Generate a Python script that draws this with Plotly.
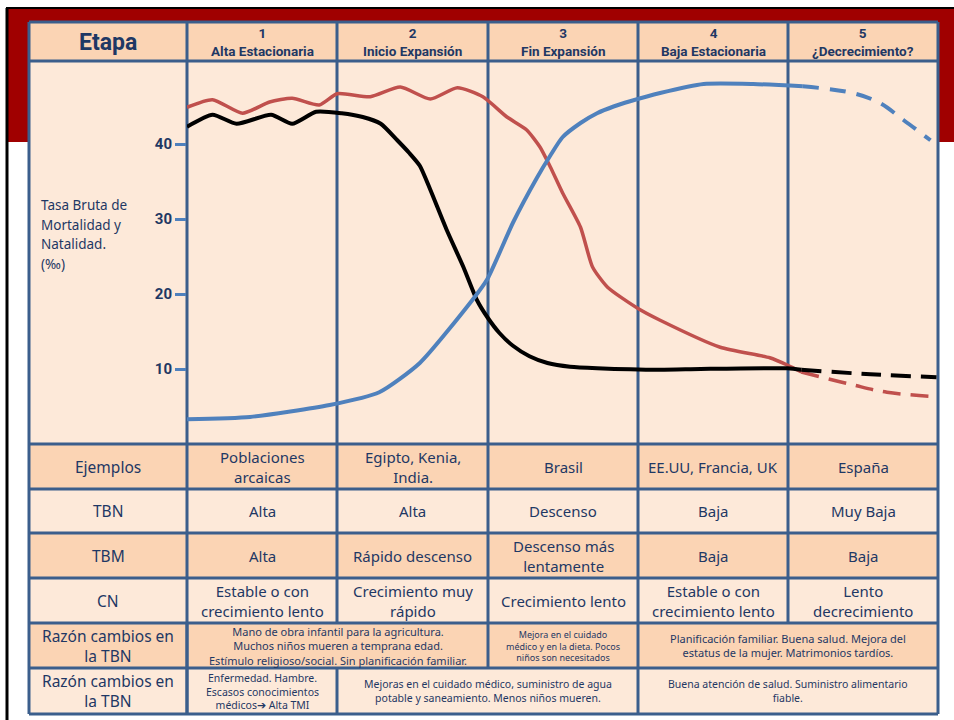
import plotly.graph_objects as go

W, H = 954, 720

# ---------------- data (x in stage units 0..5, y in per mille) ----------------
tbn_x = [0.00, 0.17, 0.37, 0.55, 0.70, 0.88, 1.00, 1.22, 1.42, 1.62, 1.80, 1.97, 2.13, 2.26, 2.35,
         2.42, 2.50, 2.62, 2.70, 2.80, 3.00, 3.15, 3.55, 3.88, 4.00, 4.09]
tbn_y = [44.9, 45.9, 44.1, 45.6, 46.1, 45.2, 46.7, 46.3, 47.6, 46.0, 47.5, 46.3, 43.6, 41.9, 39.6,
         36.9, 33.5, 28.9, 23.6, 20.9, 18.1, 16.5, 12.9, 11.5, 10.5, 9.6]
tbn_fx = [4.09, 4.43, 4.66, 4.99]
tbn_fy = [9.6, 7.9, 6.9, 6.3]

tbm_x = [0.00, 0.17, 0.33, 0.56, 0.70, 0.86, 1.03, 1.17, 1.29, 1.40, 1.48, 1.55, 1.62, 1.73, 1.84,
         1.93, 2.00, 2.08, 2.17, 2.28, 2.40, 2.55, 2.73, 3.15, 3.42, 4.00, 4.09]
tbm_y = [42.3, 43.9, 42.7, 43.9, 42.7, 44.3, 44.1, 43.6, 42.7, 40.5, 38.8, 37.1, 33.9, 28.5, 23.6,
         19.2, 16.9, 14.8, 13.1, 11.7, 10.8, 10.3, 10.1, 9.9, 10.0, 10.1, 9.9]
tbm_fx = [4.09, 4.55, 4.99]
tbm_fy = [9.9, 9.3, 8.9]

pop_x = [0.00, 0.42, 0.95, 1.28, 1.55, 1.90, 2.00, 2.17, 2.33, 2.42, 2.50, 2.62, 2.73, 2.84, 2.95,
         3.15, 3.44, 3.77, 4.10]
pop_y = [3.3, 3.6, 5.2, 6.9, 10.8, 19.2, 22.0, 29.5, 35.5, 38.5, 40.9, 42.8, 44.1, 45.0, 45.7,
         46.8, 48.0, 48.0, 47.7]
pop_fx = [4.10, 4.43, 4.61, 4.77, 4.95]
pop_fy = [47.7, 46.8, 45.5, 43.2, 40.5]

y_ticks = [10, 20, 30, 40]
y_title_lines = ["Tasa Bruta de", "Mortalidad y", "Natalidad.", "(‰)"]

stage_nums = ["1", "2", "3", "4", "5"]
stage_names = ["Alta Estacionaria", "Inicio Expansión", "Fin Expansión", "Baja Estacionaria", "¿Decrecimiento?"]
header_label = "Etapa"

row_labels = ["Ejemplos", "TBN", "TBM", "CN"]
row_cells = [
    ["Poblaciones<br>arcaicas", "Egipto, Kenia,<br>India.", "Brasil", "EE.UU, Francia, UK", "España"],
    ["Alta", "Alta", "Descenso", "Baja", "Muy Baja"],
    ["Alta", "Rápido descenso", "Descenso más<br>lentamente", "Baja", "Baja"],
    ["Estable o con<br>crecimiento lento", "Crecimiento muy<br>rápido", "Crecimiento lento",
     "Estable o con<br>crecimiento lento", "Lento<br>decrecimiento"],
]
razon_label = "Razón cambios en<br>la TBN"
razon1_spans = [(1, 3), (3, 4), (4, 6)]
razon1_texts = ["Mano de obra infantil para la agricultura.<br>Muchos niños mueren a temprana edad.<br>Estímulo religioso/social. Sin planificación familiar.",
                "Mejora en el cuidado<br>médico y en la dieta. Pocos<br>niños son necesitados",
                "Planificación familiar. Buena salud. Mejora del<br>estatus de la mujer. Matrimonios tardíos."]
razon1_sizes = [11, 9, 11]
razon2_spans = [(1, 2), (2, 4), (4, 6)]
razon2_texts = ["Enfermedad. Hambre.<br>Escasos conocimientos<br>médicos➔ Alta TMI",
                "Mejoras en el cuidado médico, suministro de agua<br>potable y saneamiento. Menos niños mueren.",
                "Buena atención de salud. Suministro alimentario<br>fiable."]
razon2_sizes = [10.5, 10.5, 10.5]

# ---------------- layout geometry (pixels) ----------------
col_edges = [29, 187, 337, 488, 638, 788, 938]
row_edges = [22, 61, 444, 489, 533, 578, 623, 668, 714]
DARK = "#FBD4B4"
LIGHT = "#FDE9D9"
row_colors = [DARK, LIGHT, DARK, LIGHT, DARK, LIGHT, DARK, LIGHT]
BORDER = "#3B5E8C"
NAVY = "#1F3864"
BODY_FONT = "Noto Sans"
HEAD_FONT = "Roboto"


def px(x):
    return x / W


def py(y):
    return 1 - y / H


shapes = []
annotations = []

# page decorations
shapes.append(dict(type="rect", xref="paper", yref="paper", x0=px(6), x1=px(954), y0=py(142), y1=py(8),
                   fillcolor="#A00000", line=dict(width=0), layer="below"))
shapes.append(dict(type="line", xref="paper", yref="paper", x0=px(6), x1=px(954), y0=py(8), y1=py(8),
                   line=dict(color="black", width=2), layer="below"))
shapes.append(dict(type="line", xref="paper", yref="paper", x0=px(7), x1=px(7), y0=py(8), y1=py(720),
                   line=dict(color="black", width=3), layer="below"))

# row backgrounds
for i, c in enumerate(row_colors):
    shapes.append(dict(type="rect", xref="paper", yref="paper", x0=px(col_edges[0]), x1=px(col_edges[-1]),
                       y0=py(row_edges[i + 1]), y1=py(row_edges[i]), fillcolor=c,
                       line=dict(width=0), layer="below"))

# horizontal lines
for y in row_edges:
    shapes.append(dict(type="line", xref="paper", yref="paper", x0=px(col_edges[0]), x1=px(col_edges[-1]),
                       y0=py(y), y1=py(y), line=dict(color=BORDER, width=3), layer="below"))


def vline(x, y0, y1):
    shapes.append(dict(type="line", xref="paper", yref="paper", x0=px(x), x1=px(x), y0=py(y0), y1=py(y1),
                       line=dict(color=BORDER, width=3), layer="below"))


for x in col_edges:
    vline(x, row_edges[0], row_edges[6])
for x in [col_edges[0], col_edges[1], col_edges[-1]]:
    vline(x, row_edges[6], row_edges[8])
for (a, b) in razon1_spans:
    vline(col_edges[a], row_edges[6], row_edges[7])
for (a, b) in razon2_spans:
    vline(col_edges[a], row_edges[7], row_edges[8])


def cell_text(text, c0, c1, r, size, bold=False, family=BODY_FONT, dy=0):
    xc = (col_edges[c0] + col_edges[c1]) / 2
    yc = (row_edges[r] + row_edges[r + 1]) / 2 + dy
    t = "<b>" + text + "</b>" if bold else text
    annotations.append(dict(x=px(xc), y=py(yc), xref="paper", yref="paper", text=t, showarrow=False,
                            xanchor="center", yanchor="middle",
                            font=dict(family=family, size=size, color=NAVY)))


# header
cell_text(header_label, 0, 1, 0, 23, bold=True, family=HEAD_FONT, dy=1)
for i in range(5):
    cell_text(stage_nums[i] + "<br>" + stage_names[i], i + 1, i + 2, 0, 13.5, bold=True, family=HEAD_FONT)

# simple rows
for r, (lab, cells) in enumerate(zip(row_labels, row_cells)):
    cell_text(lab, 0, 1, r + 2, 15.5)
    for i, t in enumerate(cells):
        cell_text(t, i + 1, i + 2, r + 2, 15)

# razon rows
cell_text(razon_label, 0, 1, 6, 15.5)
for (a, b), t, s in zip(razon1_spans, razon1_texts, razon1_sizes):
    cell_text(t, a, b, 6, s)
cell_text(razon_label, 0, 1, 7, 15.5)
for (a, b), t, s in zip(razon2_spans, razon2_texts, razon2_sizes):
    cell_text(t, a, b, 7, s)

# y title (one annotation per line to match line spacing)
for k, line in enumerate(y_title_lines):
    annotations.append(dict(x=px(39), y=py(205 + 19.7 * k), xref="paper", yref="paper", text=line,
                            showarrow=False, xanchor="left", yanchor="middle", align="left",
                            font=dict(family="Noto Sans", size=13.5, color=NAVY)))

# ---------------- traces ----------------
RED = "#C0504D"
BLUE = "#4F81BD"
fig = go.Figure()
fig.add_trace(go.Scatter(x=tbn_x, y=tbn_y, mode="lines", line=dict(color=RED, width=3.5, shape="spline", smoothing=0.6)))
fig.add_trace(go.Scatter(x=tbn_fx, y=tbn_fy, mode="lines", line=dict(color=RED, width=3.5, dash="18px,10px", shape="spline")))
fig.add_trace(go.Scatter(x=tbm_x, y=tbm_y, mode="lines", line=dict(color="black", width=4, shape="spline", smoothing=0.6)))
fig.add_trace(go.Scatter(x=tbm_fx, y=tbm_fy, mode="lines", line=dict(color="black", width=4, dash="20px,10px", shape="spline")))
fig.add_trace(go.Scatter(x=pop_x, y=pop_y, mode="lines", line=dict(color=BLUE, width=4, shape="spline", smoothing=0.6)))
fig.add_trace(go.Scatter(x=pop_fx, y=pop_fy, mode="lines", line=dict(color=BLUE, width=4, dash="16px,11px", shape="spline")))

fig.update_layout(
    width=W, height=H, margin=dict(l=0, r=0, t=0, b=0),
    paper_bgcolor="white", plot_bgcolor="rgba(0,0,0,0)", showlegend=False,
    shapes=shapes, annotations=annotations,
    xaxis=dict(domain=[px(187), px(938)], range=[0, 5], showgrid=False, zeroline=False,
               showticklabels=False, ticks="", showline=False, fixedrange=True),
    yaxis=dict(domain=[py(444), py(61)], range=[0, (444 - 61) / 7.5], showgrid=False, zeroline=False,
               showline=False, tickvals=y_ticks, ticktext=["<b>%d</b>" % v for v in y_ticks],
               ticks="outside", ticklen=11, tickwidth=3, tickcolor=BLUE,
               tickfont=dict(family=HEAD_FONT, size=15, color=NAVY), fixedrange=True),
)

fig.write_html("out.html", config={"displayModeBar": False},
               post_script="document.body.style.margin='0';document.body.style.overflow='hidden';")
